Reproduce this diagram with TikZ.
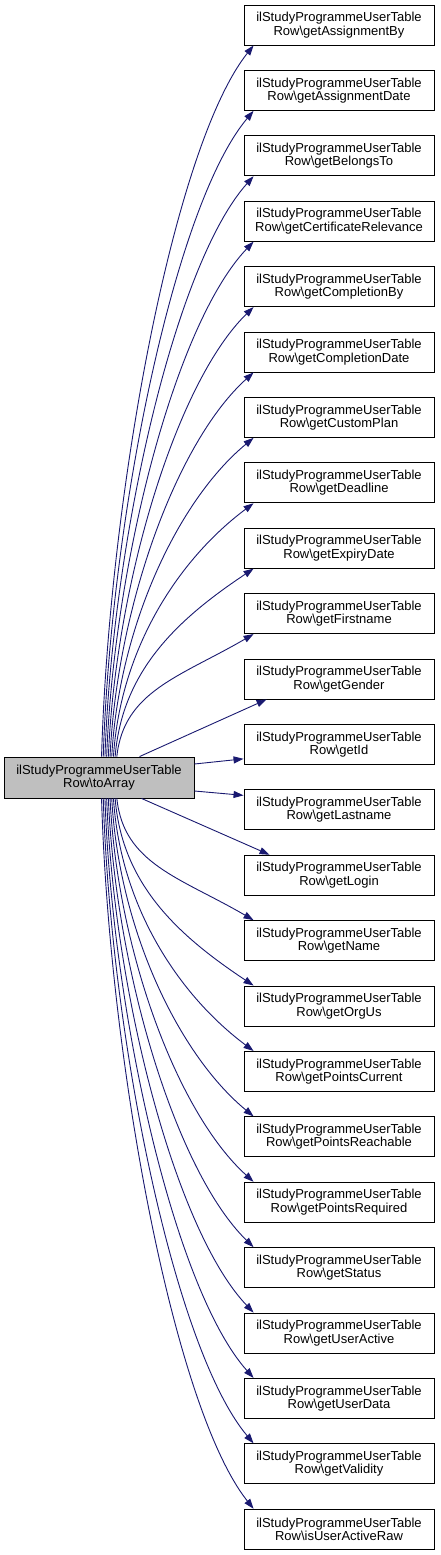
\documentclass[tikz,border=0pt]{standalone}
\usepackage{fontspec}
\setmainfont{Liberation Sans}
\usetikzlibrary{arrows.meta,calc}
\definecolor{srcgray}{HTML}{BFBFBF}
\definecolor{edgeblue}{HTML}{191970}
\begin{document}
\begin{tikzpicture}[x=1pt,y=1pt,
 fn/.style={draw=black, line width=0.9pt, fill=white, minimum width=190pt, minimum height=40pt, inner sep=0pt, align=center, font=\fontsize{13}{13.5}\selectfont},
 srcnode/.style={fn, fill=srcgray, minimum height=41pt},
 edge/.style={draw=edgeblue, line width=0.9pt, -{Triangle[length=10pt,width=7pt]}}]
\useasboundingbox (0,0) rectangle (441,-1555);
\node[srcnode] (s) at (99,-777.5) {ilStudyProgrammeUserTable\\Row\textbackslash toArray};
\foreach \i/\t in {1/getAssignmentBy, 2/getAssignmentDate, 3/getBelongsTo, 4/getCertificateRelevance, 5/getCompletionBy, 6/getCompletionDate, 7/getCustomPlan, 8/getDeadline, 9/getExpiryDate, 10/getFirstname, 11/getGender, 12/getId, 13/getLastname, 14/getLogin, 15/getName, 16/getOrgUs, 17/getPointsCurrent, 18/getPointsReachable, 19/getPointsRequired, 20/getStatus, 21/getUserActive, 22/getUserData, 23/getValidity, 24/isUserActiveRaw}
  \node[fn] (t\i) at (339, {-25-65.4*(\i-1)}) {ilStudyProgrammeUserTable\\Row\textbackslash\t};
\foreach \i in {1,...,10}{
  \pgfmathsetmacro\sx{98+(\i-1)*1.7}
  \pgfmathsetmacro\dx{250-\sx}
  \pgfmathsetmacro\dy{712-65.4*(\i-1)}
  \pgfmathsetmacro\ax{0.05*\dx}
  \pgfmathsetmacro\ay{0.33*\dy+25}
  \pgfmathsetmacro\bx{-0.53*\dx}
  \pgfmathsetmacro\by{0.1*\dy+30}
  \draw[edge] ($(s.north west)+(\sx,0)$) .. controls +(\ax,\ay) and +(\bx,-\by) .. ($(t\i.south west)+(10,0)$);
}
\foreach \j in {15,...,24}{
  \pgfmathtruncatemacro\k{25-\j}
  \pgfmathsetmacro\sx{98+(\k-1)*1.7}
  \pgfmathsetmacro\dx{250-\sx}
  \pgfmathsetmacro\dy{712-65.4*(\k-1)}
  \pgfmathsetmacro\ax{0.05*\dx}
  \pgfmathsetmacro\ay{0.33*\dy+25}
  \pgfmathsetmacro\bx{-0.53*\dx}
  \pgfmathsetmacro\by{0.1*\dy+30}
  \draw[edge] ($(s.south west)+(\sx,0)$) .. controls +(\ax,-\ay) and +(\bx,\by) .. ($(t\j.north west)+(10,0)$);
}
\draw[edge] ($(s.north west)+(136,0)$) -- ($(t11.south west)+(23,0)$);
\draw[edge] ($(s.south west)+(138,0)$) -- ($(t14.north west)+(26,0)$);
\draw[edge] ($(s.east)+(0,13.5)$) -- ($(t12.south west)+(0,6)$);
\draw[edge] ($(s.east)+(0,-13.5)$) -- ($(t13.north west)+(0,-6)$);
\end{tikzpicture}
\end{document}
